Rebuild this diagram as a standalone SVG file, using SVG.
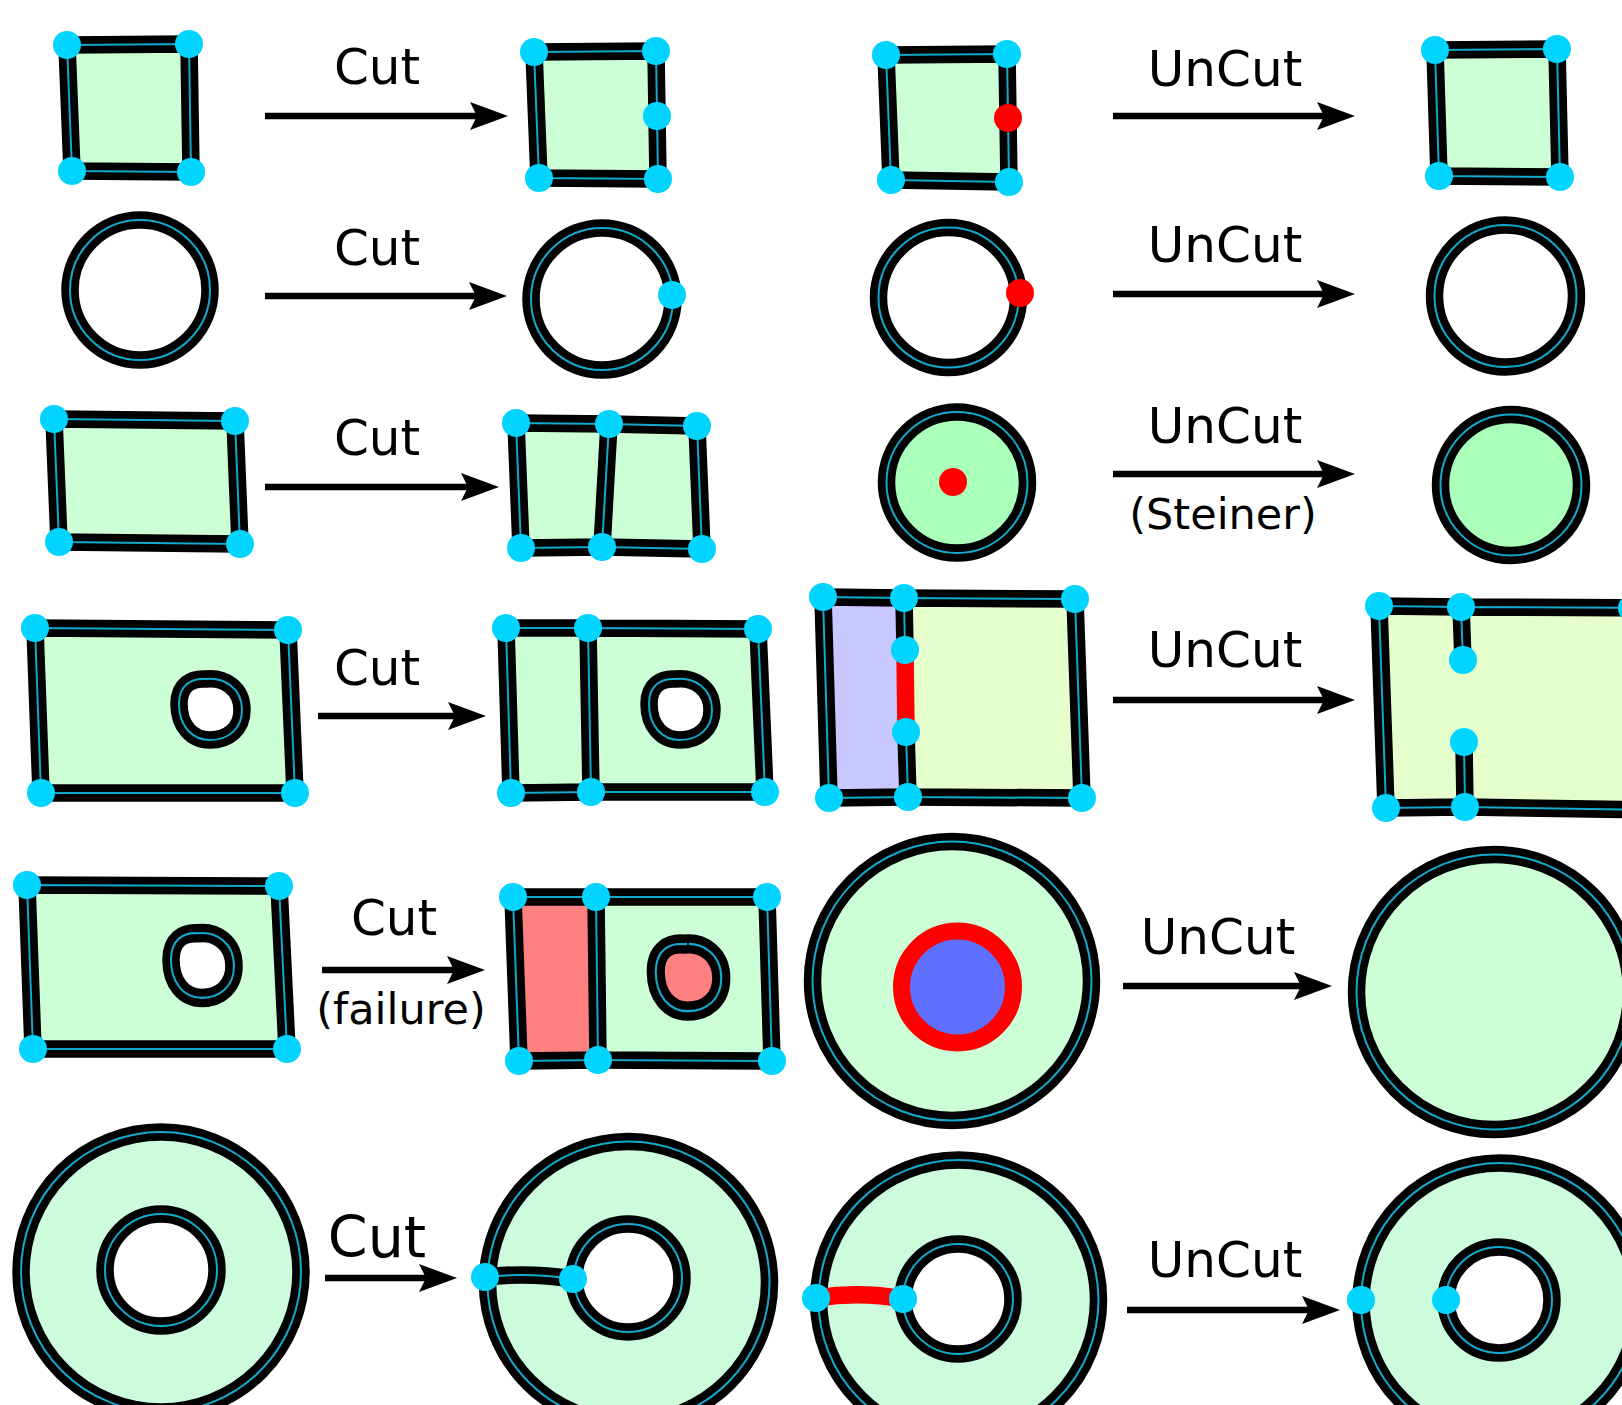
<svg xmlns="http://www.w3.org/2000/svg" width="1622" height="1405" viewBox="0 0 1622 1405">
<style>
.e{fill:none;stroke:#000;stroke-width:17.5;stroke-linejoin:round;stroke-linecap:round}
.c{fill:none;stroke:#12a9cc;stroke-width:2}
.r{fill:none;stroke:#ff0000;stroke-width:17.5;stroke-linecap:butt}
.v{fill:#00d4ff}
.x{fill:#ff0000}
.g{fill:#ccffd5}
.g2{fill:#aaffbb}
.g3{fill:#e5ffcc}
.g4{fill:#ccfcdc}
.lav{fill:#c8c8ff}
.sal{fill:#ff8080}
.wh{fill:#fff}
.lbl{font-family:"DejaVu Sans",Verdana,sans-serif;font-size:50px;text-anchor:middle;fill:#000}
.sub{font-size:43px}
.arr{fill:none;stroke:#000;stroke-width:6.5;marker-end:url(#ah)}
</style>
<defs>
<marker id="ah" markerUnits="userSpaceOnUse" markerWidth="40" markerHeight="30" viewBox="0 -15 40 30" refX="8" refY="0" orient="auto">
<path d="M0,-14 L38,0 L0,14 L7,0 Z" fill="#000"/>
</marker>
<!-- rounded hole outline, centred on the origin -->
<path id="blob" d="M-31,-4 C-31,-23 -19,-30 -4,-29 C14,-31 32,-20 32,2 C32,21 18,32 0,32 C-18,32 -31,18 -31,-4 Z"/>
</defs>
<rect width="1622" height="1405" fill="#fff"/>

<!-- row 1 -->
<g id="sq1">
<path class="g" d="M67,45 L189,44 L191,172 L72,171 Z"/>
<path class="e" d="M67,45 L189,44 L191,172 L72,171 Z"/>
<path class="c" d="M67,45 L189,44 L191,172 L72,171 Z"/>
<circle class="v" cx="67" cy="45" r="14"/><circle class="v" cx="189" cy="44" r="14"/>
<circle class="v" cx="72" cy="171" r="14"/><circle class="v" cx="191" cy="172" r="14"/>
</g>
<g id="sq2">
<path class="g" d="M534,52 L656,51 L658,179 L539,178 Z"/>
<path class="e" d="M534,52 L656,51 L658,179 L539,178 Z"/>
<path class="c" d="M534,52 L656,51 L658,179 L539,178 Z"/>
<circle class="v" cx="534" cy="52" r="14"/><circle class="v" cx="656" cy="51" r="14"/>
<circle class="v" cx="657" cy="116" r="14"/>
<circle class="v" cx="539" cy="178" r="14"/><circle class="v" cx="658" cy="179" r="14"/>
</g>
<g id="sq3">
<path class="g" d="M886,55 L1007,54 L1009,182 L891,180 Z"/>
<path class="e" d="M886,55 L1007,54 L1009,182 L891,180 Z"/>
<path class="c" d="M886,55 L1007,54 L1009,182 L891,180 Z"/>
<circle class="v" cx="886" cy="55" r="14"/><circle class="v" cx="1007" cy="54" r="14"/>
<circle class="x" cx="1008" cy="118" r="14"/>
<circle class="v" cx="891" cy="180" r="14"/><circle class="v" cx="1009" cy="182" r="14"/>
</g>
<g id="sq4">
<path class="g" d="M1435,50 L1557,49 L1560,177 L1439,176 Z"/>
<path class="e" d="M1435,50 L1557,49 L1560,177 L1439,176 Z"/>
<path class="c" d="M1435,50 L1557,49 L1560,177 L1439,176 Z"/>
<circle class="v" cx="1435" cy="50" r="14"/><circle class="v" cx="1557" cy="49" r="14"/>
<circle class="v" cx="1439" cy="176" r="14"/><circle class="v" cx="1560" cy="177" r="14"/>
</g>

<!-- row 2 -->
<g id="ring1">
<circle class="e" cx="140" cy="290" r="70"/><circle class="c" cx="140" cy="290" r="70"/>
</g>
<g id="ring2">
<circle class="e" cx="602" cy="299" r="71"/><circle class="c" cx="602" cy="299" r="71"/>
<circle class="v" cx="672" cy="295" r="14"/>
</g>
<g id="ring3">
<circle class="e" cx="948.5" cy="297.5" r="70"/><circle class="c" cx="948.5" cy="297.5" r="70"/>
<circle class="x" cx="1020" cy="293" r="14"/>
</g>
<g id="ring4">
<circle class="e" cx="1505.5" cy="296" r="71"/><circle class="c" cx="1505.5" cy="296" r="71"/>
</g>

<!-- row 3 -->
<g id="rect1">
<path class="g" d="M54,419 L235,421 L240,544 L59,542 Z"/>
<path class="e" d="M54,419 L235,421 L240,544 L59,542 Z"/>
<path class="c" d="M54,419 L235,421 L240,544 L59,542 Z"/>
<circle class="v" cx="54" cy="419" r="14"/><circle class="v" cx="235" cy="421" r="14"/>
<circle class="v" cx="59" cy="542" r="14"/><circle class="v" cx="240" cy="544" r="14"/>
</g>
<g id="rect2">
<path class="g" d="M516,423 L609,424 L697,426 L702,549 L602,547 L521,548 Z"/>
<path class="e" d="M516,423 L609,424 L697,426 L702,549 L602,547 L521,548 Z M609,424 L602,547"/>
<path class="c" d="M516,423 L609,424 L697,426 L702,549 L602,547 L521,548 Z M609,424 L602,547"/>
<circle class="v" cx="516" cy="423" r="14"/><circle class="v" cx="609" cy="424" r="14"/><circle class="v" cx="697" cy="426" r="14"/>
<circle class="v" cx="521" cy="548" r="14"/><circle class="v" cx="602" cy="547" r="14"/><circle class="v" cx="702" cy="549" r="14"/>
</g>
<g id="disk1">
<circle class="g2" cx="957" cy="482.5" r="70.5"/>
<circle class="e" cx="957" cy="482.5" r="70.5"/><circle class="c" cx="957" cy="482.5" r="70.5"/>
<circle class="x" cx="953" cy="482" r="14"/>
</g>
<g id="disk2">
<circle class="g2" cx="1511" cy="485" r="70.5"/>
<circle class="e" cx="1511" cy="485" r="70.5"/><circle class="c" cx="1511" cy="485" r="70.5"/>
</g>

<!-- row 4 -->
<g id="holed1">
<path class="g" d="M35,628 L288,630 L295,793 L41,793 Z"/>
<path class="e" d="M35,628 L288,630 L295,793 L41,793 Z"/>
<path class="c" d="M35,628 L288,630 L295,793 L41,793 Z"/>
<use href="#blob" transform="translate(210,708)" class="wh"/>
<use href="#blob" transform="translate(210,708)" class="e"/>
<use href="#blob" transform="translate(210,708)" class="c"/>
<circle class="v" cx="35" cy="628" r="14"/><circle class="v" cx="288" cy="630" r="14"/>
<circle class="v" cx="41" cy="793" r="14"/><circle class="v" cx="295" cy="793" r="14"/>
</g>
<g id="holed2">
<path class="g" d="M506,628 L588,628 L758,629 L765,792 L591,792 L511,793 Z"/>
<path class="e" d="M506,628 L588,628 L758,629 L765,792 L591,792 L511,793 Z M588,628 L591,792"/>
<path class="c" d="M506,628 L588,628 L758,629 L765,792 L591,792 L511,793 Z M588,628 L591,792"/>
<use href="#blob" transform="translate(680,708)" class="wh"/>
<use href="#blob" transform="translate(680,708)" class="e"/>
<use href="#blob" transform="translate(680,708)" class="c"/>
<circle class="v" cx="506" cy="628" r="14"/><circle class="v" cx="588" cy="628" r="14"/><circle class="v" cx="758" cy="629" r="14"/>
<circle class="v" cx="511" cy="793" r="14"/><circle class="v" cx="591" cy="792" r="14"/><circle class="v" cx="765" cy="792" r="14"/>
</g>
<g id="split1">
<path class="lav" d="M823,597 L904,598 L908,797 L829,798 Z"/>
<path class="g3" d="M904,598 L1075,599 L1082,798 L908,797 Z"/>
<path class="e" d="M823,597 L904,598 L1075,599 L1082,798 L908,797 L829,798 Z M904,598 L905,650 M906,732 L908,797"/>
<path class="c" d="M823,597 L904,598 L1075,599 L1082,798 L908,797 L829,798 Z M904,598 L905,650 M906,732 L908,797"/>
<path class="r" d="M905,650 L906,732"/>
<circle class="v" cx="823" cy="597" r="14"/><circle class="v" cx="904" cy="598" r="14"/><circle class="v" cx="1075" cy="599" r="14"/>
<circle class="v" cx="905" cy="650" r="14"/><circle class="v" cx="906" cy="732" r="14"/>
<circle class="v" cx="829" cy="798" r="14"/><circle class="v" cx="908" cy="797" r="14"/><circle class="v" cx="1082" cy="798" r="14"/>
</g>
<g id="split2">
<path class="g3" d="M1379,606 L1640,608 L1640,810 L1386,808 Z"/>
<path class="e" d="M1650,608 L1461,607 L1379,606 L1386,808 L1465,807 L1650,810 M1461,607 L1463,660 M1464,742 L1465,807"/>
<path class="c" d="M1650,608 L1461,607 L1379,606 L1386,808 L1465,807 L1650,810 M1461,607 L1463,660 M1464,742 L1465,807"/>
<circle class="v" cx="1379" cy="606" r="14"/><circle class="v" cx="1461" cy="607" r="14"/><circle class="v" cx="1632" cy="608" r="14"/>
<circle class="v" cx="1463" cy="660" r="14"/><circle class="v" cx="1464" cy="742" r="14"/>
<circle class="v" cx="1386" cy="808" r="14"/><circle class="v" cx="1465" cy="807" r="14"/>
</g>

<!-- row 5 -->
<g id="holed3">
<path class="g" d="M27,885 L279,886 L287,1049 L33,1049 Z"/>
<path class="e" d="M27,885 L279,886 L287,1049 L33,1049 Z"/>
<path class="c" d="M27,885 L279,886 L287,1049 L33,1049 Z"/>
<use href="#blob" transform="translate(202,964) scale(1,1.06)" class="wh"/>
<use href="#blob" transform="translate(202,964) scale(1,1.06)" class="e"/>
<use href="#blob" transform="translate(202,964) scale(1,1.06)" class="c"/>
<circle class="v" cx="27" cy="885" r="14"/><circle class="v" cx="279" cy="886" r="14"/>
<circle class="v" cx="33" cy="1049" r="14"/><circle class="v" cx="287" cy="1049" r="14"/>
</g>
<g id="holed4">
<path class="sal" d="M513,897 L596,897 L598,1060 L519,1061 Z"/>
<path class="g" d="M596,897 L767,897 L772,1061 L598,1060 Z"/>
<path class="e" d="M513,897 L596,897 L767,897 L772,1061 L598,1060 L519,1061 Z M596,897 L598,1060"/>
<path class="c" d="M513,897 L596,897 L767,897 L772,1061 L598,1060 L519,1061 Z M596,897 L598,1060"/>
<use href="#blob" transform="translate(688,976) scale(1.04,1.1)" class="sal"/>
<use href="#blob" transform="translate(688,976) scale(1.04,1.1)" class="e"/>
<use href="#blob" transform="translate(688,976) scale(1.04,1.1)" class="c"/>
<path d="M688,942 L688,951" stroke="#000" stroke-width="1.5"/>
<circle class="v" cx="513" cy="897" r="14"/><circle class="v" cx="596" cy="897" r="14"/><circle class="v" cx="767" cy="897" r="14"/>
<circle class="v" cx="519" cy="1061" r="14"/><circle class="v" cx="598" cy="1060" r="14"/><circle class="v" cx="772" cy="1061" r="14"/>
</g>
<g id="bigdisk1">
<circle class="g" cx="952" cy="981" r="139.5"/>
<circle class="e" cx="952" cy="981" r="139.5"/><circle class="c" cx="952" cy="981" r="139.5"/>
<circle cx="957.5" cy="987" r="56" fill="#5f6fff" stroke="#ff0000" stroke-width="17"/>
</g>
<g id="bigdisk2">
<circle class="g" cx="1494" cy="992" r="137.5"/>
<circle class="e" cx="1494" cy="992" r="137.5"/><circle class="c" cx="1494" cy="992" r="137.5"/>
</g>

<!-- row 6 -->
<g id="annulus1">
<circle class="g4" cx="161" cy="1272" r="140"/>
<circle class="e" cx="161" cy="1272" r="140"/><circle class="c" cx="161" cy="1272" r="140"/>
<circle class="wh" cx="161" cy="1270" r="56"/>
<circle class="e" cx="161" cy="1270" r="56"/><circle class="c" cx="161" cy="1270" r="56"/>
</g>
<g id="annulus2">
<circle class="g4" cx="628.5" cy="1282.5" r="141"/>
<circle class="e" cx="628.5" cy="1282.5" r="141"/><circle class="c" cx="628.5" cy="1282.5" r="141"/>
<circle class="wh" cx="628" cy="1278" r="54"/>
<circle class="e" cx="628" cy="1278" r="54"/><circle class="c" cx="628" cy="1278" r="54"/>
<path class="e" d="M485,1277 Q529,1272 573,1279"/>
<path class="c" d="M485,1277 Q529,1272 573,1279"/>
<circle class="v" cx="485" cy="1277" r="14"/><circle class="v" cx="573" cy="1279" r="14"/>
</g>
<g id="annulus3">
<circle class="g4" cx="958.5" cy="1300" r="140"/>
<circle class="e" cx="958.5" cy="1300" r="140"/><circle class="c" cx="958.5" cy="1300" r="140"/>
<circle class="wh" cx="958" cy="1299" r="55"/>
<circle class="e" cx="958" cy="1299" r="55"/><circle class="c" cx="958" cy="1299" r="55"/>
<path class="r" d="M816,1298 Q860,1291 903,1299"/>
<circle class="v" cx="816" cy="1298" r="14"/><circle class="v" cx="903" cy="1299" r="14"/>
</g>
<g id="annulus4">
<circle class="g4" cx="1500" cy="1302" r="139"/>
<circle class="e" cx="1500" cy="1302" r="139"/><circle class="c" cx="1500" cy="1302" r="139"/>
<circle class="wh" cx="1499" cy="1300" r="53"/>
<circle class="e" cx="1499" cy="1300" r="53"/><circle class="c" cx="1499" cy="1300" r="53"/>
<circle class="v" cx="1361" cy="1300" r="14"/><circle class="v" cx="1446" cy="1300" r="14"/>
</g>

<!-- operation arrows -->
<g id="arrows">
<path class="arr" d="M265,116 L478,116"/>
<path class="arr" d="M1113,116 L1325,116"/>
<path class="arr" d="M265,296 L477,296"/>
<path class="arr" d="M1113,294 L1325,294"/>
<path class="arr" d="M265,487 L469,487"/>
<path class="arr" d="M1113,474 L1325,474"/>
<path class="arr" d="M318,716 L456,716"/>
<path class="arr" d="M1113,700 L1325,700"/>
<path class="arr" d="M322,970 L455,970"/>
<path class="arr" d="M1123,986 L1302,986"/>
<path class="arr" d="M325,1278 L427,1278"/>
<path class="arr" d="M1127,1310 L1310,1310"/>
</g>

<g id="labels" class="lbl">
<text x="377" y="84">Cut</text>
<text x="1225" y="86">UnCut</text>
<text x="377" y="265">Cut</text>
<text x="1225" y="262">UnCut</text>
<text x="377" y="455">Cut</text>
<text x="1225" y="443">UnCut</text>
<text x="1223" y="529" class="sub">(Steiner)</text>
<text x="377" y="685">Cut</text>
<text x="1225" y="667">UnCut</text>
<text x="394" y="935">Cut</text>
<text x="401" y="1024" class="sub">(failure)</text>
<text x="1218" y="954">UnCut</text>
<text x="377" y="1257" style="font-size:57px">Cut</text>
<text x="1225" y="1277">UnCut</text>
</g>
</svg>
